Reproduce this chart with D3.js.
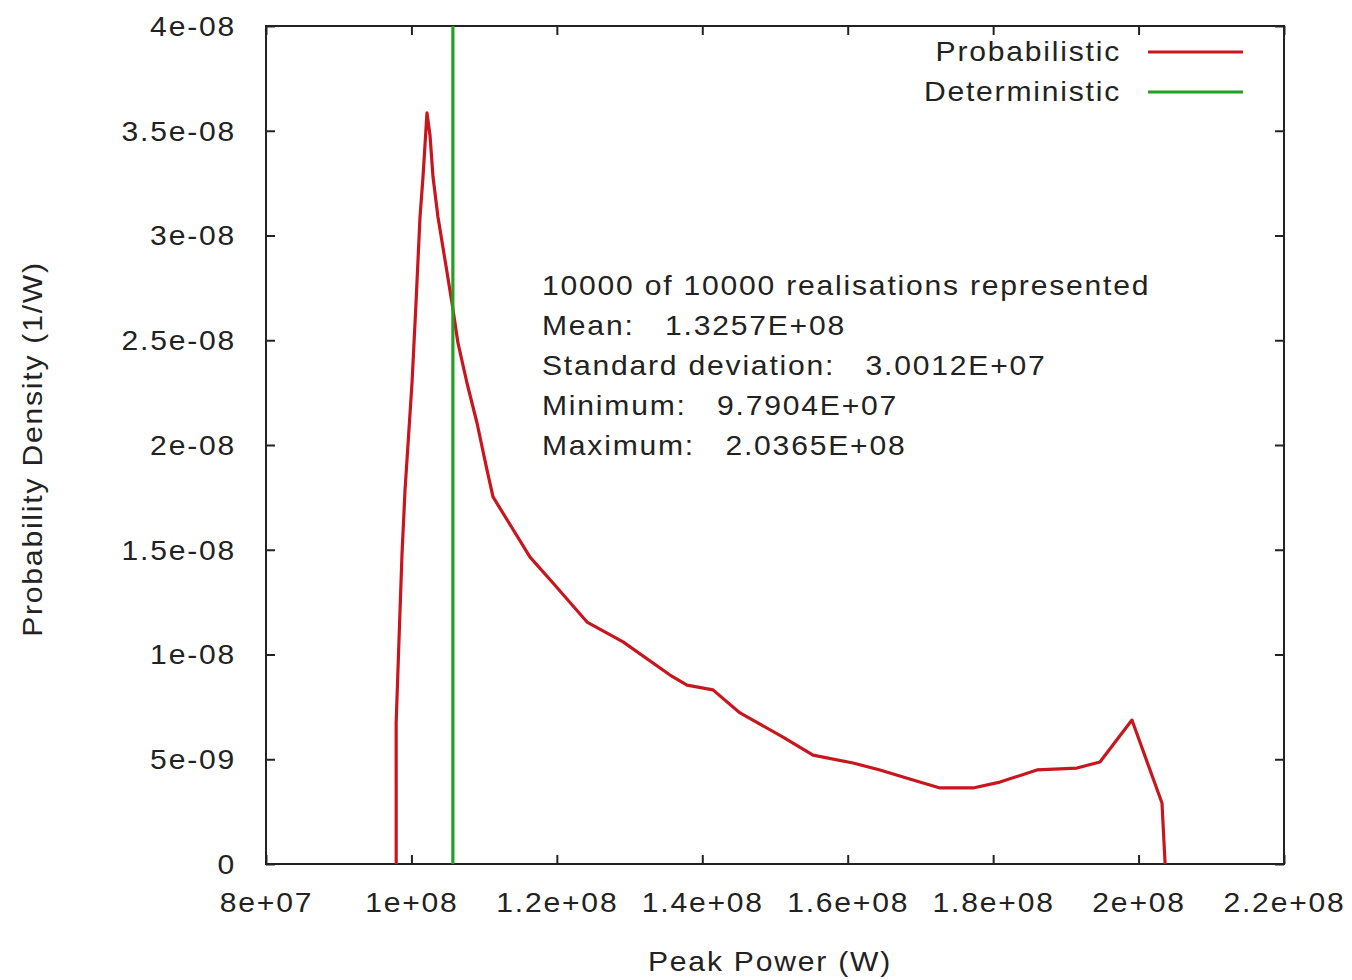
<!DOCTYPE html>
<html><head><meta charset="utf-8">
<script src="https://cdn.jsdelivr.net/npm/d3@7"></script>
<style>
body{margin:0;background:#fff;}
svg text{font-family:"Liberation Sans",Arial,sans-serif;fill:#222;white-space:pre;}
</style></head>
<body><svg id="c" width="1352" height="980"></svg>
<script>
// Data
const peakPower = [97.904,97.9,98.29,98.70,99.12,100.08,100.63,101.18,101.59,102.14,102.55,102.97,103.65,104.62,105.58,106.40,107.64,109.02,110.39,111.22,116.31,119.47,124.15,129.10,135.56,137.90,141.47,145.19,151.10,155.23,160.73,164.44,168.98,172.69,177.23,180.94,186.03,191.53,194.69,199.09,203.22,203.65].map(v=>v*1e6);
const density = [0,6.73,10.69,14.75,17.85,22.96,26.78,30.88,32.79,35.85,34.80,32.79,30.88,28.83,26.78,24.87,22.96,21.05,18.81,17.52,14.65,13.41,11.55,10.60,9.02,8.54,8.31,7.21,6.06,5.20,4.82,4.49,4.01,3.63,3.63,3.91,4.49,4.58,4.87,6.87,2.91,0].map(v=>v*1e-9);
const deterministic = 1.057e8;
const xTicks = [8e7,1e8,1.2e8,1.4e8,1.6e8,1.8e8,2e8,2.2e8];
const xTickLabels = ["8e+07","1e+08","1.2e+08","1.4e+08","1.6e+08","1.8e+08","2e+08","2.2e+08"];
const yTicks = [0,5e-9,1e-8,1.5e-8,2e-8,2.5e-8,3e-8,3.5e-8,4e-8];
const yTickLabels = ["0","5e-09","1e-08","1.5e-08","2e-08","2.5e-08","3e-08","3.5e-08","4e-08"];
const legendLabels = ["Probabilistic","Deterministic"];
const statsLines = ["10000 of 10000 realisations represented","Mean:   1.3257E+08","Standard deviation:   3.0012E+07","Minimum:   9.7904E+07","Maximum:   2.0365E+08"];

const L=266,R=1284,T=26,B=864;
const svg=d3.select("#c");
const x=d3.scaleLinear().domain([8e7,2.2e8]).range([L,R]);
const y=d3.scaleLinear().domain([0,4e-8]).range([B,T]);
const red="#c8161e", green="#22a022";
const fs=27, ls="1.6px", sx=1.115;

// ticks (inward, mirrored)
const tk=9;
const axB=svg.append("g").attr("transform",`translate(0,${B})`).call(d3.axisBottom(x).tickValues(xTicks).tickSizeInner(-tk).tickSizeOuter(0).tickFormat((d,i)=>xTickLabels[i]));
const axT=svg.append("g").attr("transform",`translate(0,${T})`).call(d3.axisTop(x).tickValues(xTicks).tickSizeInner(-tk).tickSizeOuter(0).tickFormat(""));
const axL=svg.append("g").attr("transform",`translate(${L},0)`).call(d3.axisLeft(y).tickValues(yTicks).tickSizeInner(-tk).tickSizeOuter(0).tickFormat((d,i)=>yTickLabels[i]));
const axR=svg.append("g").attr("transform",`translate(${R},0)`).call(d3.axisRight(y).tickValues(yTicks).tickSizeInner(-tk).tickSizeOuter(0).tickFormat(""));
[axB,axT,axL,axR].forEach(a=>{a.select(".domain").remove();a.selectAll("line").attr("stroke","#222").attr("stroke-width",2);
  a.selectAll("text").style("font-size",fs+"px").style("letter-spacing",ls).attr("fill","#222");});
axB.selectAll("text").attr("x",0).attr("y",39).attr("dy","0.35em").attr("transform",`scale(${sx},1)`);
axL.selectAll("text").attr("x",-30/sx).attr("dy","0.35em").attr("transform",`scale(${sx},1)`);

// frame
svg.append("rect").attr("x",L).attr("y",T).attr("width",R-L).attr("height",B-T).attr("fill","none").attr("stroke","#222").attr("stroke-width",2);

// lines
const line=d3.line().x(d=>x(d[0])).y(d=>y(d[1]));
svg.append("path").datum(peakPower.map((v,i)=>[v,density[i]])).attr("d",line).attr("fill","none").attr("stroke",red).attr("stroke-width",3.2).attr("stroke-linejoin","round");
svg.append("line").attr("x1",x(deterministic)).attr("x2",x(deterministic)).attr("y1",y(0)).attr("y2",y(4e-8)).attr("stroke",green).attr("stroke-width",3.2);

function addText(px,py,anchor,t,rot){
  const g=svg.append("g").attr("transform",`translate(${px},${py})${rot?` rotate(${rot})`:""} scale(${sx},1)`);
  g.append("text").attr("x",0).attr("y",0).attr("dy","0.35em").attr("text-anchor",anchor).style("font-size",fs+"px").style("letter-spacing",ls).text(t);
}

// legend
const legY=[52,92], legCol=[red,green];
legendLabels.forEach((t,i)=>{
  addText(1121,legY[i],"end",t);
  svg.append("line").attr("x1",1148).attr("x2",1243).attr("y1",legY[i]).attr("y2",legY[i]).attr("stroke",legCol[i]).attr("stroke-width",3.2);
});

// stats text
statsLines.forEach((t,i)=>addText(542,286+40*i,"start",t));

// axis titles
addText(770,962,"middle","Peak Power (W)");
addText(33,449,"middle","Probability Density (1/W)",-90);
</script></body></html>
